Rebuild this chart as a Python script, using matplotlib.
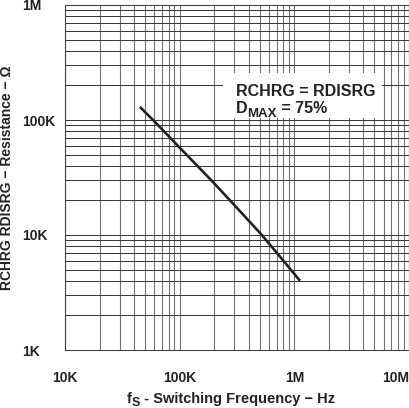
import numpy as np
import matplotlib
matplotlib.use("Agg")
import matplotlib.pyplot as plt
from matplotlib.patches import Rectangle
from matplotlib.ticker import FixedLocator, FixedFormatter, LogLocator, NullFormatter

plt.rcParams['font.family'] = ['Liberation Sans', 'DejaVu Sans']

# 读取的曲线数据
freq = [45e3, 61e3, 100e3, 123e3, 195e3, 300e3, 521e3, 800e3, 1.12e6]
res = [130e3, 96e3, 57.5e3, 46.5e3, 28.9e3, 18.2e3, 10e3, 6.0e3, 4.0e3]

x_ticks = [1e4, 1e5, 1e6, 1e7]
x_labels = ["10K", "100K", "1M", "10M"]
y_ticks = [1e3, 1e4, 1e5, 1e6]
y_labels = ["1K", "10K", "100K", "1M"]

TXT = "#222222"


def chain(first, parts):
    # 依次在前一段文字右边接上下一段 (用于下标)
    prev = first
    for s, size, dy in parts:
        prev = ax.annotate(s, xy=(1, 0), xycoords=prev, xytext=(0, dy),
                           textcoords="offset points", fontsize=size,
                           fontweight="bold", color=TXT, va="bottom", ha="left",
                           zorder=4, annotation_clip=False)
    return prev


fig = plt.figure(figsize=(4.1, 4.08), dpi=100)
ax = fig.add_axes([65 / 410, 58 / 408, 344 / 410, 345 / 408])

ax.set_xscale("log")
ax.set_yscale("log")
ax.set_xlim(1e4, 1e7)
ax.set_ylim(1e3, 1e6)

ax.xaxis.set_major_locator(FixedLocator(x_ticks))
ax.xaxis.set_major_formatter(FixedFormatter(x_labels))
ax.yaxis.set_major_locator(FixedLocator(y_ticks))
ax.yaxis.set_major_formatter(FixedFormatter(y_labels))
ax.xaxis.set_minor_locator(LogLocator(base=10, subs=np.arange(2, 10)))
ax.yaxis.set_minor_locator(LogLocator(base=10, subs=np.arange(2, 10)))
ax.xaxis.set_minor_formatter(NullFormatter())
ax.yaxis.set_minor_formatter(NullFormatter())

# 网格: 竖线偏灰, 横线偏黑
ax.xaxis.grid(True, which="both", color="#707070", linewidth=0.8)
ax.yaxis.grid(True, which="both", color="#333333", linewidth=0.7)
ax.tick_params(which="both", length=0)
ax.tick_params(axis="x", pad=15, labelsize=10, labelcolor=TXT)
ax.tick_params(axis="y", pad=31, labelsize=10, labelcolor=TXT)
for lab in ax.get_xticklabels() + ax.get_yticklabels():
    lab.set_fontweight("bold")
for lab in ax.get_yticklabels():
    lab.set_horizontalalignment("left")
ax.get_xticklabels()[-1].set_horizontalalignment("right")
for sp in ax.spines.values():
    sp.set_color("#444444")
    sp.set_linewidth(0.8)

ax.plot(freq, res, color=TXT, linewidth=1.9, solid_capstyle="butt", zorder=3)

# 注释框
ax.add_patch(Rectangle((0.459, 0.672), 0.463, 0.131, transform=ax.transAxes,
                       facecolor="white", edgecolor="none", zorder=2.5))
ax.text(0.497, 0.736, "RCHRG = RDISRG", transform=ax.transAxes, fontsize=11.5,
        fontweight="bold", color=TXT, va="baseline", ha="left", zorder=4)
d = ax.text(0.497, 0.687, "D", transform=ax.transAxes, fontsize=11.5,
            fontweight="bold", color=TXT, va="baseline", ha="left", zorder=4)
chain(d, [("MAX", 9.5, -3), (" = 75%", 11.5, 3)])

# 坐标轴标题
f = ax.text(127 / 410, 1 - 403 / 408, "f", transform=fig.transFigure, fontsize=10.5,
            fontweight="bold", color=TXT, va="baseline", ha="left")
chain(f, [("S", 9, -2.5), (" - Switching Frequency − Hz", 10.5, 2.5)])
fig.text(7 / 410, 1 - 178 / 408, "RCHRG RDISRG − Resistance − Ω", ha="center", va="center",
         rotation=90, fontsize=10, fontweight="bold", color=TXT)

fig.savefig("out.png", dpi=100)
